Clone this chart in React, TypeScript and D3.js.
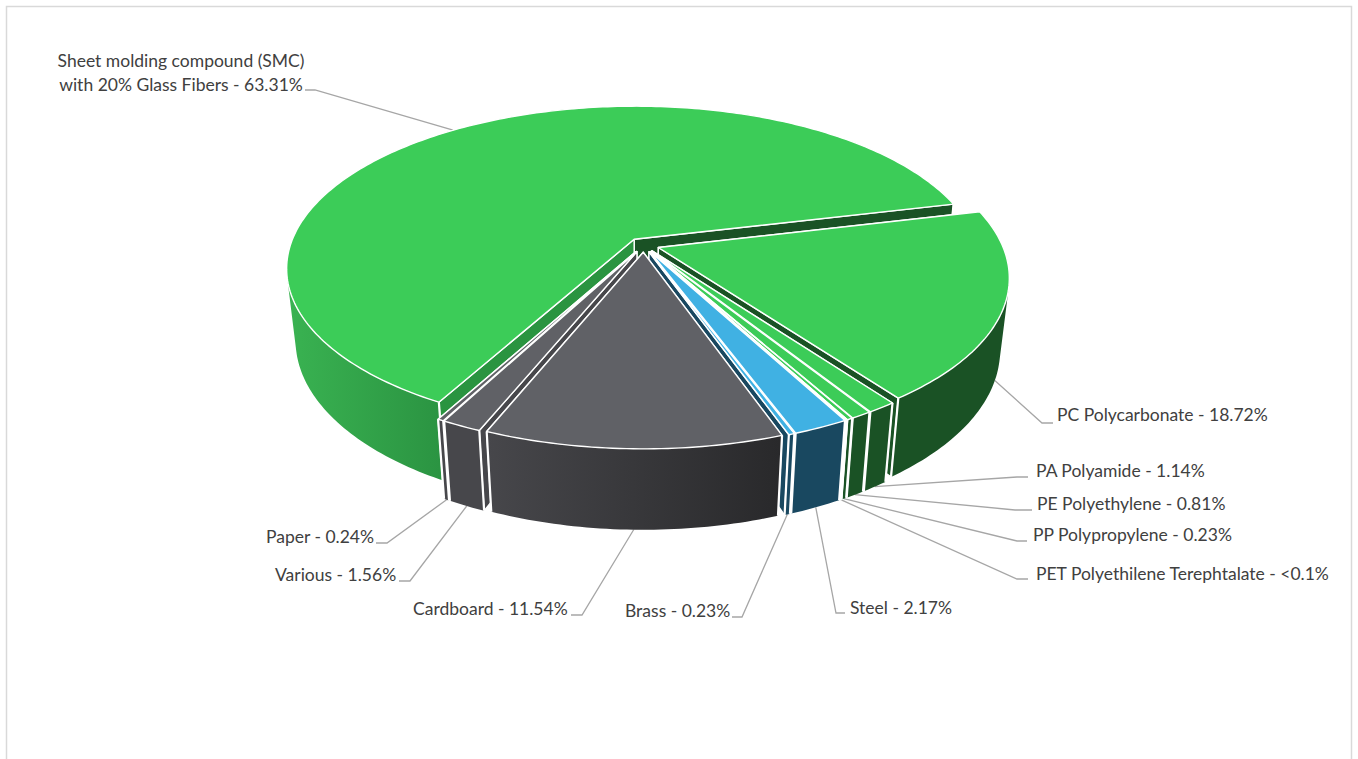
import React from "react";
import * as d3 from "d3";

const categories = [
  "PC Polycarbonate",
  "PA Polyamide",
  "PE Polyethylene",
  "PP Polypropylene",
  "PET Polyethilene Terephtalate",
  "Steel",
  "Brass",
  "Cardboard",
  "Various",
  "Paper",
  "SMC",
];
const shareValues = [18.72, 1.14, 0.81, 0.23, 0.05, 2.17, 0.23, 11.54, 1.56, 0.24, 63.31];
const labelTexts = [
  ["PC Polycarbonate - 18.72%"],
  ["PA Polyamide - 1.14%"],
  ["PE Polyethylene - 0.81%"],
  ["PP Polypropylene - 0.23%"],
  ["PET Polyethilene Terephtalate - <0.1%"],
  ["Steel - 2.17%"],
  ["Brass - 0.23%"],
  ["Cardboard - 11.54%"],
  ["Various - 1.56%"],
  ["Paper - 0.24%"],
  ["Sheet molding compound (SMC)", "with 20% Glass Fibers - 63.31%"],
];

// styling per category (top face, left-wall, right-wall, side gradient start/end)
const GREEN = "#3CCC58", DKGREEN = "#1A5225", BLUE = "#40B1E3", NAVY = "#194860", GRAY = "#606166", DKGRAY = "#47474B";
const topColors = [GREEN, GREEN, GREEN, GREEN, GREEN, BLUE, BLUE, GRAY, GRAY, GRAY, GREEN];
const wallColors = [DKGREEN, DKGREEN, DKGREEN, DKGREEN, DKGREEN, NAVY, NAVY, DKGRAY, DKGRAY, DKGRAY, "#2A9440"];
const wallEndColors = [DKGREEN, DKGREEN, DKGREEN, DKGREEN, DKGREEN, NAVY, NAVY, DKGRAY, DKGRAY, DKGRAY, DKGREEN];
const sideStart = [DKGREEN, DKGREEN, DKGREEN, DKGREEN, DKGREEN, NAVY, NAVY, "#47474B", "#47474B", "#47474B", "#39B251"];
const sideEnd = [DKGREEN, DKGREEN, DKGREEN, DKGREEN, DKGREEN, NAVY, NAVY, "#29292B", "#47474B", "#47474B", "#2B9442"];
const sideGradientX = [[890, 1008], [860, 890], [850, 870], [845, 850], [845, 850], [790, 845], [780, 795], [485, 780], [440, 485], [435, 445], [290, 440]];
const paintOrder = [10, 0, 1, 2, 3, 4, 5, 6, 9, 8, 7];

// label layout: text x, first baseline, elbow start x, elbow end x, elbow y
const labelLayout = [
  { x: 1057, y: 421, ex: 1042, tx: 1053, ly: 423, anchor: "start" },
  { x: 1036, y: 477, ex: 1017, tx: 1028, ly: 477, anchor: "start" },
  { x: 1037, y: 510, ex: 1015, tx: 1032, ly: 510, anchor: "start" },
  { x: 1033, y: 541, ex: 1017, tx: 1027, ly: 541, anchor: "start" },
  { x: 1036, y: 580, ex: 1017, tx: 1028, ly: 579, anchor: "start" },
  { x: 850, y: 614, ex: 836, tx: 845, ly: 613, anchor: "start" },
  { x: 625, y: 617, ex: 742, tx: 732, ly: 617, anchor: "start" },
  { x: 413, y: 615, ex: 582, tx: 571, ly: 615, anchor: "start" },
  { x: 275, y: 581, ex: 410, tx: 399, ly: 581, anchor: "start" },
  { x: 266, y: 543, ex: 387, tx: 376, ly: 543, anchor: "start" },
  { x: 181, y: 67, ex: 315, tx: 305, ly: 90, anchor: "middle" },
];

// projection parameters
const X0 = 643.6, Y0 = 245, A = 343.9, B = 158.7, K = 0.178, H = 73, G = 0.025;
const EXPLODE = 0.0455;
const START = ((90 - 13.5) * Math.PI) / 180;
const FONT_SIZE = 17.5;

const project = (u: number, v: number, z: number): [number, number] => {
  const w = 1 - K * v + G * z;
  return [X0 + (A * u) / w, Y0 + (B * v + H * z) / w];
};

const pieGen = d3.pie<number>().sort(null).startAngle(START).endAngle(START + 2 * Math.PI);
const arcs = pieGen(shareValues);
const line = d3.line();

export default function App() {
  const slices = arcs.map((a, i) => {
    const mid = (a.startAngle + a.endAngle) / 2;
    const ox = Math.sin(mid) * EXPLODE, oy = -Math.cos(mid) * EXPLODE;
    const pt = (t: number, z: number) => project(ox + Math.sin(t), oy - Math.cos(t), z);
    const apex = (z: number) => project(ox, oy, z);
    const n = Math.max(4, Math.ceil((a.endAngle - a.startAngle) * 60));
    const ts = d3.range(n + 1).map((k) => a.startAngle + ((a.endAngle - a.startAngle) * k) / n);
    const topPath = line([apex(0), ...ts.map((t) => pt(t, 0))]) + "Z";
    // outer side: only the quads that face the viewer, merged into one path
    const sidePath = d3
      .pairs(ts)
      .map(([t0, t1]) => [pt(t0, 0), pt(t1, 0), pt(t1, 1), pt(t0, 1)] as [number, number][])
      .filter((q) => d3.polygonArea(q) > 0)
      .map((q) => line(q) + "Z")
      .join("");
    const wallS = line([apex(0), pt(a.startAngle, 0), pt(a.startAngle, 1), apex(1)]) + "Z";
    const wallE = line([apex(0), pt(a.endAngle, 0), pt(a.endAngle, 1), apex(1)]) + "Z";
    const edges = line([pt(a.startAngle, 0), pt(a.startAngle, 1)]) + "" + line([pt(a.endAngle, 0), pt(a.endAngle, 1)]);
    const lay = labelLayout[i];
    const anchorPt = i === 10 ? pt(mid, 0) : pt(mid, 1);
    const leader = line([anchorPt, [lay.ex, lay.ly], [lay.tx, lay.ly]]);
    const startWallFirst = mid < Math.PI;
    return { i, topPath, sidePath, wallS, wallE, edges, leader, startWallFirst };
  });

  return (
    <svg
      width={1358}
      height={759}
      style={{ position: "absolute", left: 0, top: 0, display: "block", background: "#fff" }}
    >
      <defs>
        {slices.map(({ i }) => (
          <linearGradient
            key={i}
            id={`side${i}`}
            gradientUnits="userSpaceOnUse"
            x1={sideGradientX[i][0]}
            x2={sideGradientX[i][1]}
            y1={0}
            y2={0}
          >
            <stop offset="0" stopColor={sideStart[i]} />
            <stop offset="1" stopColor={sideEnd[i]} />
          </linearGradient>
        ))}
      </defs>
      <rect x={6.5} y={6.5} width={1345} height={770} fill="#fff" stroke="#D9D9D9" strokeWidth={1.5} />
      <g>
        {slices.map((s) => (
          <path key={s.i} d={s.leader ?? ""} fill="none" stroke="#A6A6A6" strokeWidth={1.3} />
        ))}
      </g>
      <g stroke="#fff" strokeWidth={1.4} strokeLinejoin="round">
        {paintOrder.map((idx) => {
          const s = slices[idx];
          const wallPaths = s.startWallFirst
            ? [
                <path key="s" d={s.wallS} fill={wallColors[idx]} />,
                <path key="e" d={s.wallE} fill={wallEndColors[idx]} />,
              ]
            : [
                <path key="e" d={s.wallE} fill={wallEndColors[idx]} />,
                <path key="s" d={s.wallS} fill={wallColors[idx]} />,
              ];
          return (
            <g key={idx}>
              {wallPaths}
              <path d={s.sidePath} fill={`url(#side${idx})`} stroke="none" />
              <path d={s.edges} fill="none" strokeWidth={2.2} />
              <path d={s.topPath} fill={topColors[idx]} />
            </g>
          );
        })}
      </g>
      <g fontFamily="Lato, 'Open Sans', sans-serif" fontSize={FONT_SIZE} fill="#404040">
        {labelTexts.map((lines, i) => {
          const lay = labelLayout[i];
          return (
            <text key={categories[i]} textAnchor={lay.anchor}>
              {lines.map((t, j) => (
                <tspan key={j} x={lay.x} y={lay.y + j * 24}>
                  {t}
                </tspan>
              ))}
            </text>
          );
        })}
      </g>
    </svg>
  );
}
